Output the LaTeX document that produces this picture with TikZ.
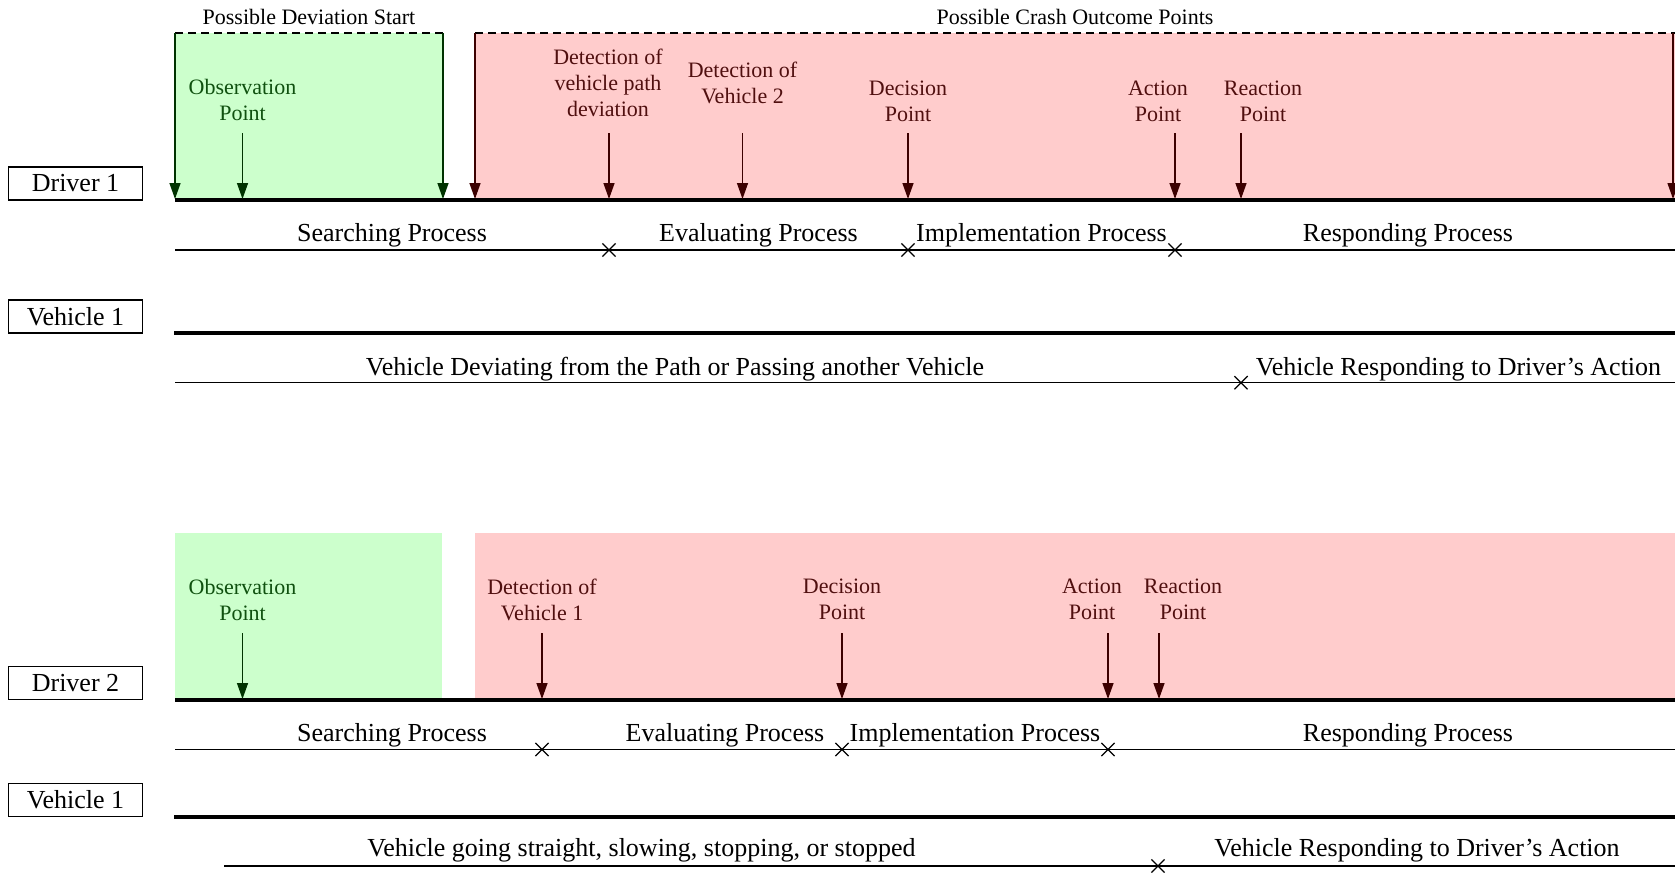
\documentclass[tikz,border=0pt]{standalone}
\usepackage{fontspec}
\setmainfont{Liberation Serif}
\usetikzlibrary{arrows.meta,shapes.misc}
\definecolor{gfill}{RGB}{204,255,204}
\definecolor{rfill}{RGB}{255,204,204}
\definecolor{gtext}{RGB}{15,80,15}
\definecolor{gline}{RGB}{0,51,0}
\definecolor{rtext}{RGB}{80,15,15}
\definecolor{rline}{RGB}{60,0,0}
\begin{document}
\begin{tikzpicture}[x=1bp,y=-1bp,
  big/.style={font=\fontsize{26bp}{30bp}\selectfont, inner sep=0pt, anchor=base},
  small/.style={font=\fontsize{22bp}{26bp}\selectfont, inner sep=0pt, align=center},
  toplabel/.style={font=\fontsize{22bp}{26bp}\selectfont, inner sep=0pt, anchor=base},
  tag/.style={draw, line width=1.2bp, minimum width=134bp, minimum height=33bp, inner sep=0pt, font=\fontsize{26bp}{30bp}\selectfont},
  timeline/.style={line width=4bp},
  procline/.style={line width=1.4bp},
  garrow/.style={gline, line width=1.4bp, -{Triangle[length=16bp,width=11bp]}},
  rarrow/.style={rline, line width=1.4bp, -{Triangle[length=16bp,width=11bp]}},
  xmark/.style={draw, cross out, line width=1.2bp, minimum size=12bp, inner sep=0pt},
  dashtop/.style={line width=1.2bp, dash pattern=on 8bp off 5bp}
]
\useasboundingbox (0,0) rectangle (1675,872);

% ---------------- top section ----------------
\fill[gfill] (175,33) rectangle (443,200);
\fill[rfill] (475,33) rectangle (1675,200);
\coordinate (gTL) at (175,33);
\coordinate (gTR) at (443,33);
\coordinate (gBL) at (175,199);
\coordinate (gBR) at (443,199);
\coordinate (rTL) at (475,33);
\coordinate (rTR) at (1673,33);
\coordinate (rBL) at (475,199);
\coordinate (rBR) at (1673,199);
\draw[dashtop] (gTL) -- (gTR);
\draw[dashtop] (rTL) -- (1675,33);
\draw[garrow] (gTL) -- (gBL);
\draw[garrow] (gTR) -- (gBR);
\draw[rarrow] (rTL) -- (rBL);
\draw[rarrow] (rTR) -- (rBR);

\node[toplabel] (pds) at (309,24.5) {Possible Deviation Start};
\node[toplabel] (pco) at (1075,24.5) {Possible Crash Outcome Points};

\node[tag] (d1) at (75.5,183.5) {Driver 1};
\coordinate (t1s) at (175,200);
\coordinate (t1e) at (1675,200);
\draw[timeline] (t1s) -- (t1e);

\node[small, gtext] (obs1) at (242.5,100) {Observation\\Point};
\node[small, rtext] (dvp1) at (608,83) {Detection of\\vehicle path\\deviation};
\node[small, rtext] (dv21) at (742.5,83) {Detection of\\Vehicle 2};
\node[small, rtext] (dec1) at (908,101) {Decision\\Point};
\node[small, rtext] (act1) at (1158,101) {Action\\Point};
\node[small, rtext] (rea1) at (1263,101) {Reaction\\Point};

\coordinate (a1o) at (242.5,133); \coordinate (b1o) at (242.5,199);
\coordinate (a1d) at (609,133);   \coordinate (b1d) at (609,199);
\coordinate (a1v) at (742.5,133); \coordinate (b1v) at (742.5,199);
\coordinate (a1c) at (908,133);   \coordinate (b1c) at (908,199);
\coordinate (a1a) at (1175,133);  \coordinate (b1a) at (1175,199);
\coordinate (a1r) at (1241,133);  \coordinate (b1r) at (1241,199);
\draw[garrow] (a1o) -- (b1o);
\draw[rarrow] (a1d) -- (b1d);
\draw[rarrow] (a1v) -- (b1v);
\draw[rarrow] (a1c) -- (b1c);
\draw[rarrow] (a1a) -- (b1a);
\draw[rarrow] (a1r) -- (b1r);

\coordinate (p1s) at (175,250);
\coordinate (p1e) at (1675,250);
\draw[procline] (p1s) -- (p1e);
\node[xmark] (x11) at (609,250) {};
\node[xmark] (x12) at (908,250) {};
\node[xmark] (x13) at (1175,250) {};
\node[big] (sp1) at (392,241) {Searching Process};
\node[big] (ep1) at (758.5,241) {Evaluating Process};
\node[big] (ip1) at (1041.5,241) {Implementation Process};
\node[big] (rp1) at (1408,241) {Responding Process};

\node[tag] (v1) at (75.5,316.5) {Vehicle 1};
\coordinate (vl1s) at (174,332.5);
\coordinate (vl1e) at (1675,332.5);
\draw[timeline] (vl1s) -- (vl1e);
\coordinate (vp1s) at (175,382.7);
\coordinate (vp1e) at (1675,382.7);
\draw[procline] (vp1s) -- (vp1e);
\node[xmark] (xv1) at (1241,382.7) {};
\node[big] (vd1) at (675,375) {Vehicle Deviating from the Path or Passing another Vehicle};
\node[big] (vr1) at (1458.5,375) {Vehicle Responding to Driver’s Action};

% ---------------- bottom section ----------------
\fill[gfill] (175,533) rectangle (442,700);
\fill[rfill] (475,533) rectangle (1675,700);

\node[tag] (d2) at (75.5,683) {Driver 2};
\coordinate (t2s) at (175,700);
\coordinate (t2e) at (1675,700);
\draw[timeline] (t2s) -- (t2e);

\node[small, gtext] (obs2) at (242.5,599.5) {Observation\\Point};
\node[small, rtext] (dv12) at (542,599.5) {Detection of\\Vehicle 1};
\node[small, rtext] (dec2) at (842,599.5) {Decision\\Point};
\node[small, rtext] (act2) at (1092,599.5) {Action\\Point};
\node[small, rtext] (rea2) at (1183,599.5) {Reaction\\Point};

\coordinate (a2o) at (242.5,633); \coordinate (b2o) at (242.5,699);
\coordinate (a2d) at (542,633);   \coordinate (b2d) at (542,699);
\coordinate (a2c) at (842,633);   \coordinate (b2c) at (842,699);
\coordinate (a2a) at (1108,633);  \coordinate (b2a) at (1108,699);
\coordinate (a2r) at (1159,633);  \coordinate (b2r) at (1159,699);
\draw[garrow] (a2o) -- (b2o);
\draw[rarrow] (a2d) -- (b2d);
\draw[rarrow] (a2c) -- (b2c);
\draw[rarrow] (a2a) -- (b2a);
\draw[rarrow] (a2r) -- (b2r);

\coordinate (p2s) at (175,749.5);
\coordinate (p2e) at (1675,749.5);
\draw[procline] (p2s) -- (p2e);
\node[xmark] (x21) at (542,749.5) {};
\node[xmark] (x22) at (842,749.5) {};
\node[xmark] (x23) at (1108,749.5) {};
\node[big] (sp2) at (392,741) {Searching Process};
\node[big] (ep2) at (725,741) {Evaluating Process};
\node[big] (ip2) at (975,741) {Implementation Process};
\node[big] (rp2) at (1408,741) {Responding Process};

\node[tag] (v2) at (75.5,799.7) {Vehicle 1};
\coordinate (vl2s) at (174,816.5);
\coordinate (vl2e) at (1675,816.5);
\draw[timeline] (vl2s) -- (vl2e);
\coordinate (vp2s) at (224,866);
\coordinate (vp2e) at (1675,866);
\draw[procline] (vp2s) -- (vp2e);
\node[xmark] (xv2) at (1158,866) {};
\node[big] (vg2) at (641.5,856.5) {Vehicle going straight, slowing, stopping, or stopped};
\node[big] (vr2) at (1417,856.5) {Vehicle Responding to Driver’s Action};
\end{tikzpicture}
\end{document}
